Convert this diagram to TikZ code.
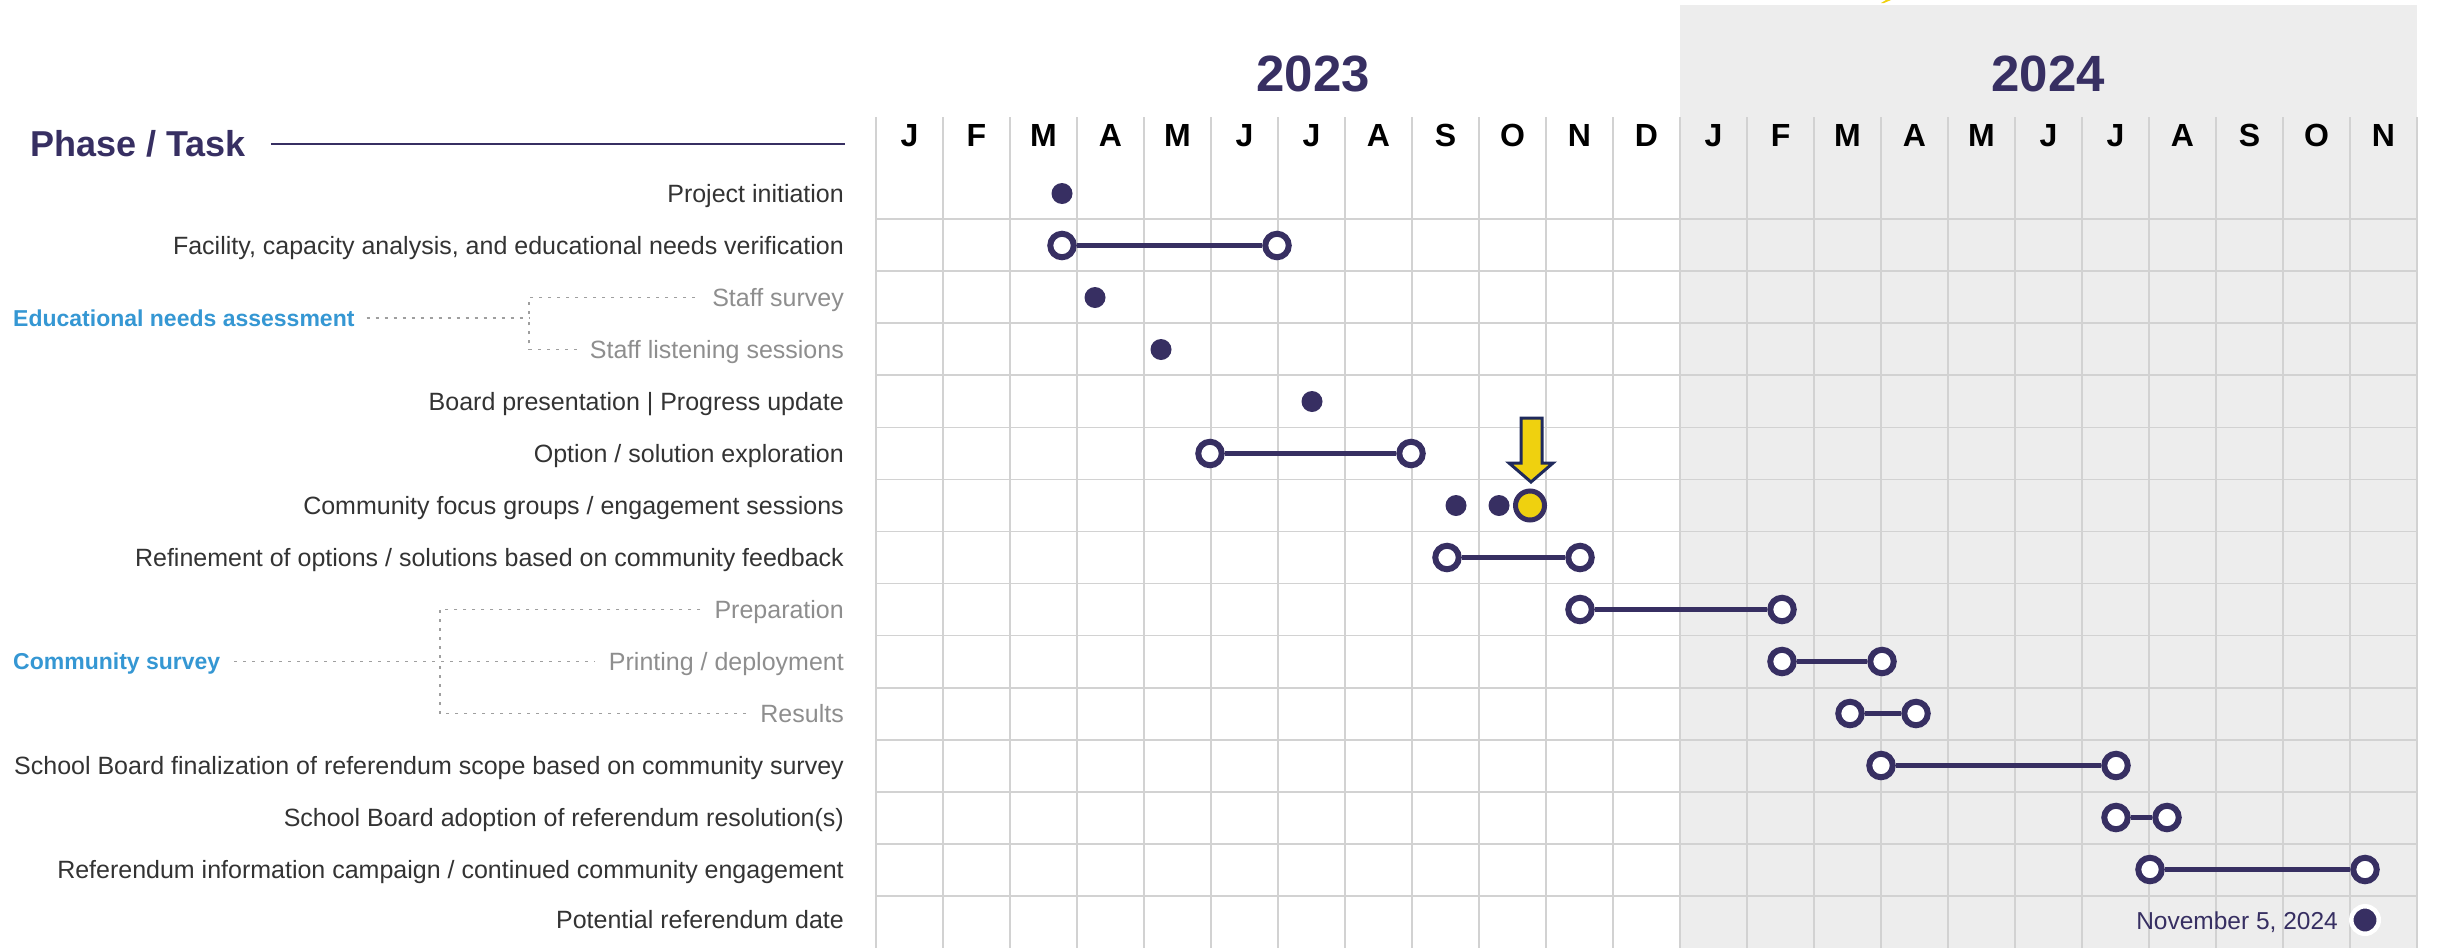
\documentclass[tikz,border=0pt]{standalone}
\usepackage{fontspec}
\setmainfont{Liberation Sans}
\definecolor{navy}{HTML}{372F62}
\definecolor{labelgray}{HTML}{333333}
\definecolor{subgray}{HTML}{8E8E8E}
\definecolor{phaseblue}{HTML}{3597D3}
\definecolor{gridgray}{HTML}{D2D2D2}
\definecolor{shade24}{HTML}{EDEDED}
\definecolor{marker}{HTML}{EFD10F}
\definecolor{markerline}{HTML}{1F2A5C}
\tikzset{
  task/.style={anchor=east, inner sep=0pt, text=labelgray,
    font=\fontsize{25}{29}\selectfont, text height=17.9pt, text depth=0pt},
  subtask/.style={task, text=subgray},
  phase/.style={anchor=west, inner sep=0pt, text=phaseblue,
    font=\bfseries\fontsize{23}{27}\selectfont, text height=16.5pt, text depth=0pt},
  month/.style={inner sep=0pt, text=black,
    font=\bfseries\fontsize{32}{36}\selectfont, text height=23pt, text depth=0pt},
  year/.style={inner sep=0pt, text=navy,
    font=\bfseries\fontsize{51}{56}\selectfont, text height=36.5pt, text depth=0pt},
  gridline/.style={draw=gridgray, line width=1.6pt},
  dotline/.style={draw=subgray!85, line width=1.5pt, dash pattern=on 3pt off 6pt},
  dot/.style={circle, fill=navy, minimum size=21pt, inner sep=0pt},
  ring/.style={circle, draw=navy, fill=white, line width=6pt, minimum size=23.5pt, inner sep=0pt},
  bar/.style={draw=navy, line width=5.5pt},
  current/.style={circle, draw=navy, fill=marker, line width=5pt, minimum size=29pt, inner sep=0pt},
  finaldot/.style={circle, draw=white, fill=navy, line width=4.5pt, minimum size=27.5pt, inner sep=0pt},
}
\begin{document}
\begin{tikzpicture}[x=1pt,y=-1pt]
\useasboundingbox (0,0) rectangle (2440,948);

% 2024 background band
\fill[shade24] (1680,5) rectangle (2417,948);
\fill[marker] (1881,3) -- (1884,3) -- (1891,0) -- (1886,0) -- cycle;

% month grid
\foreach \j in {0,...,23}
  \draw[gridline] ({876+67*\j},117) -- ({876+67*\j},948);
\foreach \k in {1,...,14}
  \draw[gridline] (876,{219+52.08*(\k-1)}) -- (2417,{219+52.08*(\k-1)});

% years and months
\node[year] (y2023) at (1313,73) {2023};
\node[year] (y2024) at (2048,73) {2024};
\foreach \m [count=\j from 0] in {J,F,M,A,M,J,J,A,S,O,N,D,J,F,M,A,M,J,J,A,S,O,N}
  \node[month] (m\j) at ({909.5+67*\j},135) {\m};

% header
\node[anchor=west, inner sep=0pt, text=navy, font=\bfseries\fontsize{36}{40}\selectfont,
  text height=25.8pt, text depth=0pt] (head) at (30,144) {Phase / Task};
\coordinate (headend) at (845,144);
\draw[navy, line width=2.5pt] ([xshift=25pt]head.east) -- (headend);

% task labels
\node[task] (t1)  at (844,193.5) {Project initiation};
\node[task] (t2)  at (844,245.5) {Facility, capacity analysis, and educational needs verification};
\node[subtask] (t3)  at (844,297.5) {Staff survey};
\node[subtask] (t4)  at (844,349.5) {Staff listening sessions};
\node[task] (t5)  at (844,401.5) {Board presentation | Progress update};
\node[task] (t6)  at (844,453.5) {Option / solution exploration};
\node[task] (t7)  at (844,505.5) {Community focus groups / engagement sessions};
\node[task] (t8)  at (844,557.5) {Refinement of options / solutions based on community feedback};
\node[subtask] (t9)  at (844,609.5) {Preparation};
\node[subtask] (t10) at (844,661.5) {Printing / deployment};
\node[subtask] (t11) at (844,713.5) {Results};
\node[task] (t12) at (844,765.5) {School Board finalization of referendum scope based on community survey};
\node[task] (t13) at (844,817.5) {School Board adoption of referendum resolution(s)};
\node[task] (t14) at (844,869.5) {Referendum information campaign / continued community engagement};
\node[task] (t15) at (844,920) {Potential referendum date};

% grouped phases
\node[phase] (ena) at (13,318) {Educational needs assessment};
\coordinate (enaJ) at (529,318);
\draw[dotline] ([xshift=12pt]ena.east) -- (enaJ);
\draw[dotline] ([xshift=-17pt]t3.west) -| (enaJ);
\draw[dotline] ([xshift=-13pt]t4.west) -| (enaJ);

\node[phase] (cs) at (13,661.5) {Community survey};
\coordinate (csJ) at (440,661.5);
\draw[dotline] ([xshift=14pt]cs.east) -- ([xshift=-14pt]t10.west);
\draw[dotline] ([xshift=-14pt]t9.west) -| (csJ);
\draw[dotline] ([xshift=-14pt]t11.west) -| (csJ);

% milestones
\node[dot] (p1) at (1062,193.5) {};
\node[dot] (p3) at (1095,297.5) {};
\node[dot] (p4) at (1161,349.5) {};
\node[dot] (p5) at (1312,401.5) {};
\node[dot] (p7a) at (1456,505.5) {};
\node[dot] (p7b) at (1499,505.5) {};

% spans
\node[ring] (s2a) at (1062,245.5) {};
\node[ring] (s2b) at (1277,245.5) {};
\node[ring] (s6a) at (1210,453.5) {};
\node[ring] (s6b) at (1411,453.5) {};
\node[ring] (s8a) at (1447,557.5) {};
\node[ring] (s8b) at (1580,557.5) {};
\node[ring] (s9a) at (1580,609.5) {};
\node[ring] (s9b) at (1782,609.5) {};
\node[ring] (s10a) at (1782,661.5) {};
\node[ring] (s10b) at (1882,661.5) {};
\node[ring] (s11a) at (1850,713.5) {};
\node[ring] (s11b) at (1916,713.5) {};
\node[ring] (s12a) at (1881,765.5) {};
\node[ring] (s12b) at (2116,765.5) {};
\node[ring] (s13a) at (2116,817.5) {};
\node[ring] (s13b) at (2167,817.5) {};
\node[ring] (s14a) at (2150,869.5) {};
\node[ring] (s14b) at (2365,869.5) {};
\foreach \r in {2,6,8,9,10,11,12,13,14}
  \draw[bar] (s\r a) -- (s\r b);

% current position
\node[current] (now) at (1530,505.5) {};
\draw[markerline, fill=marker, line width=3pt, line join=miter]
  (1521,418) -- (1542,418) -- (1542,463) -- (1553,463) -- (1531,482)
  -- (1509,463) -- (1521,463) -- cycle;

% referendum date
\node[finaldot] (ref) at (2365,920) {};
\node[anchor=east, inner sep=0pt, text=navy, font=\fontsize{24.5}{28}\selectfont,
  text height=18pt, text depth=0pt] (refdate) at (2338,920) {November 5, 2024};
\end{tikzpicture}
\end{document}
